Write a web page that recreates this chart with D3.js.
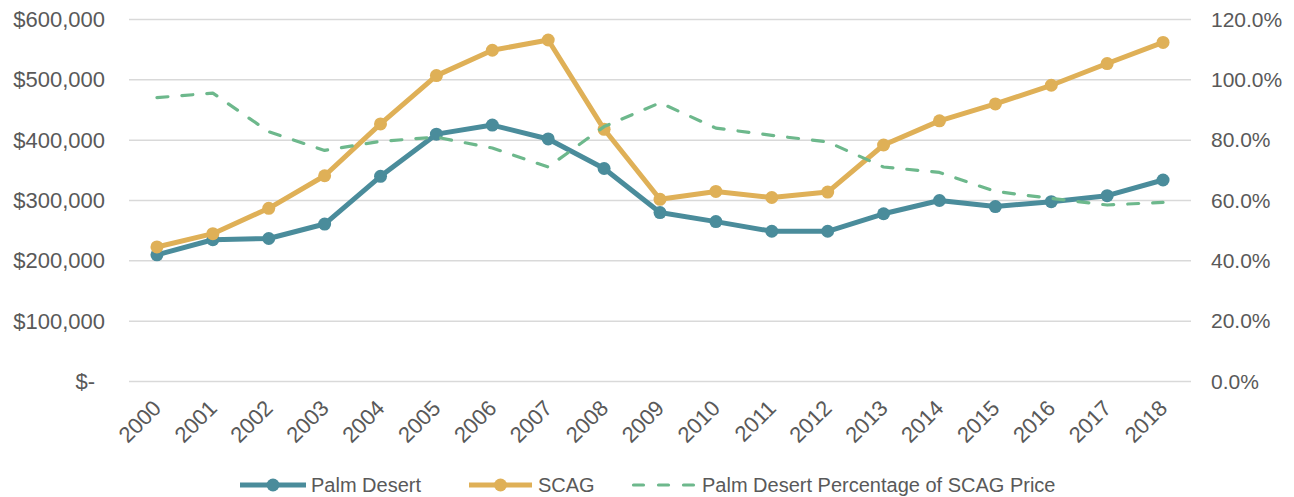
<!DOCTYPE html>
<html>
<head>
<meta charset="utf-8">
<script src="https://cdn.jsdelivr.net/npm/d3@7"></script>
<style>
  html, body { margin: 0; padding: 0; background: #ffffff; }
  svg { display: block; }
  text { font-family: "Liberation Sans", Arial, sans-serif; fill: #595959; }
</style>
</head>
<body>
<svg id="chart" width="1294" height="497"></svg>
<script>
const years = ["2000","2001","2002","2003","2004","2005","2006","2007","2008","2009","2010","2011","2012","2013","2014","2015","2016","2017","2018"];
const palmDesert = [210000, 235000, 237000, 261000, 340000, 410000, 425000, 402000, 353000, 280000, 265000, 249000, 249000, 278000, 300000, 290000, 298000, 308000, 334000];
const scag = [223000, 245000, 287000, 341000, 427000, 507000, 549000, 566000, 418000, 302000, 315000, 305000, 314000, 392000, 432000, 460000, 491000, 527000, 562000];
const pctOfScag = [94.1, 95.6, 82.8, 76.6, 79.6, 81.0, 77.4, 71.1, 84.5, 92.4, 84.0, 81.6, 79.4, 71.1, 69.3, 63.0, 60.7, 58.5, 59.4];
const leftTicks = [0, 100000, 200000, 300000, 400000, 500000, 600000];
const rightTicks = [0, 20, 40, 60, 80, 100, 120];
const seriesNames = ["Palm Desert", "SCAG", "Palm Desert Percentage of SCAG Price"];

const colors = { pd: "#4a8c9b", scag: "#dfb057", pct: "#6db88c", grid: "#d9d9d9" };

const svg = d3.select("#chart");
const plot = { left: 129, right: 1191, top: 19.5, bottom: 381.5 };

const x = d3.scalePoint().domain(years).range([plot.left, plot.right]).padding(0.5);
const yL = d3.scaleLinear().domain([0, 600000]).range([plot.bottom, plot.top]);
const yR = d3.scaleLinear().domain([0, 120]).range([plot.bottom, plot.top]);

// gridlines
svg.append("g").selectAll("line").data(leftTicks).join("line")
  .attr("x1", plot.left).attr("x2", plot.right)
  .attr("y1", d => yL(d)).attr("y2", d => yL(d))
  .attr("stroke", colors.grid).attr("stroke-width", 1.5);

// left axis
const fmtL = d => d === 0 ? "$-" : "$" + d3.format(",")(d);
const gL = svg.append("g").attr("transform", `translate(${plot.left},0)`)
  .call(d3.axisLeft(yL).tickValues(leftTicks).tickSize(0).tickPadding(24).tickFormat(fmtL));
gL.select(".domain").remove();
gL.selectAll("text").attr("font-size", 22).attr("font-family", "Liberation Sans, Arial, sans-serif").attr("fill", "#595959")
  .attr("dx", d => d === 0 ? -10 : 0);

// right axis
const gR = svg.append("g").attr("transform", `translate(${plot.right},0)`)
  .call(d3.axisRight(yR).tickValues(rightTicks).tickSize(0).tickPadding(20).tickFormat(d => d3.format(".1f")(d) + "%"));
gR.select(".domain").remove();
gR.selectAll("text").attr("font-size", 21).attr("font-family", "Liberation Sans, Arial, sans-serif").attr("fill", "#595959");

// bottom axis
const gB = svg.append("g").attr("transform", `translate(0,${plot.bottom})`)
  .call(d3.axisBottom(x).tickSize(0).tickPadding(0));
gB.select(".domain").remove();
gB.selectAll("text")
  .attr("font-size", 22).attr("font-family", "Liberation Sans, Arial, sans-serif").attr("fill", "#595959")
  .attr("text-anchor", "end")
  .attr("dy", null)
  .attr("y", 0)
  .attr("transform", "translate(5,28) rotate(-45)");

// lines
const lineL = d3.line().x((d, i) => x(years[i])).y(d => yL(d));
const lineR = d3.line().x((d, i) => x(years[i])).y(d => yR(d));

function drawSeries(values, color) {
  const g = svg.append("g");
  g.append("path").datum(values).attr("d", lineL)
    .attr("fill", "none").attr("stroke", color).attr("stroke-width", 5)
    .attr("stroke-linejoin", "round").attr("stroke-linecap", "round");
  g.selectAll("circle").data(values).join("circle")
    .attr("cx", (d, i) => x(years[i])).attr("cy", d => yL(d)).attr("r", 6.5)
    .attr("fill", color);
}
drawSeries(palmDesert, colors.pd);
drawSeries(scag, colors.scag);

svg.append("path").datum(pctOfScag).attr("d", lineR)
  .attr("fill", "none").attr("stroke", colors.pct).attr("stroke-width", 3.2)
  .attr("stroke-dasharray", "11,14").attr("stroke-linecap", "round").attr("stroke-linejoin", "round");

// legend
const legend = svg.append("g").attr("transform", "translate(0,485)");
const legendItems = [
  { name: seriesNames[0], color: colors.pd, x0: 240, x1: 306, marker: true, dash: null, tx: 311 },
  { name: seriesNames[1], color: colors.scag, x0: 469, x1: 532, marker: true, dash: null, tx: 538 },
  { name: seriesNames[2], color: colors.pct, x0: 633.5, x1: 697, marker: false, dash: "10,15", tx: 702 }
];
legendItems.forEach(it => {
  legend.append("line").attr("x1", it.x0).attr("x2", it.x1).attr("y1", 0).attr("y2", 0)
    .attr("stroke", it.color).attr("stroke-width", it.marker ? 5 : 3.2)
    .attr("stroke-linecap", it.marker ? "butt" : "round")
    .attr("stroke-dasharray", it.dash);
  if (it.marker) legend.append("circle").attr("cx", (it.x0 + it.x1) / 2).attr("cy", 0).attr("r", 6.5).attr("fill", it.color);
  legend.append("text").attr("x", it.tx).attr("y", 0).attr("dy", "0.35em")
    .attr("font-size", 20).text(it.name);
});
</script>
</body>
</html>
